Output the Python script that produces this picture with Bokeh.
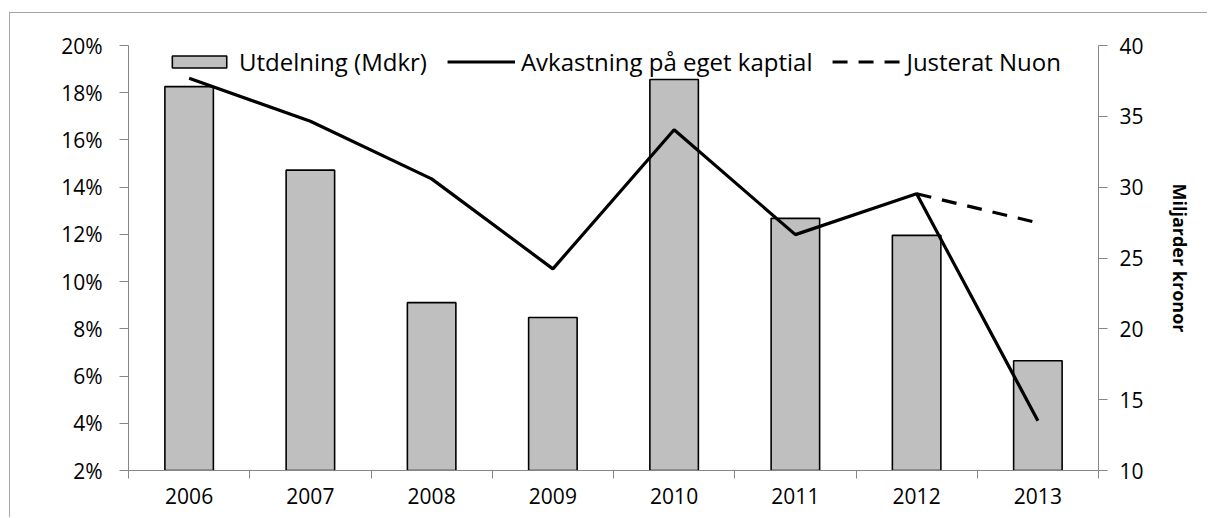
from bokeh.plotting import figure
from bokeh.models import (Range1d, LinearAxis, FixedTicker, NumeralTickFormatter,
                          ColumnDataSource, Legend, LegendItem)
from bokeh.embed import file_html
from bokeh.resources import INLINE

years = ["2006", "2007", "2008", "2009", "2010", "2011", "2012", "2013"]
utdelning = [37.1, 31.2, 21.85, 20.8, 37.6, 27.8, 26.6, 17.75]
avkastning = [0.1861, 0.1679, 0.1435, 0.1054, 0.1643, 0.1199, 0.1372, 0.0411]
justerat_years = ["2012", "2013"]
justerat = [0.1372, 0.1249]

FONT = "Open Sans"
AXIS_GRAY = "#868686"

n = len(years)
xc = [i + 0.5 for i in range(n)]
xj = [years.index(y) + 0.5 for y in justerat_years]

p = figure(width=1198, height=505, output_backend="svg", toolbar_location=None,
           x_range=Range1d(0, n), y_range=Range1d(0.02, 0.20),
           min_border_left=118, min_border_right=110, min_border_top=32,
           min_border_bottom=48)
p.styles = {"margin-left": "9px", "margin-top": "12px",
            "border-left": "1px solid #a6a6a6", "border-top": "1px solid #a6a6a6"}
p.extra_y_ranges = {"mdkr": Range1d(10, 40)}
p.outline_line_color = None
p.xgrid.visible = False
p.ygrid.visible = False
p.background_fill_color = "white"
p.border_fill_color = "white"

src_bar = ColumnDataSource(dict(x=xc, top=utdelning))
bars = p.vbar(x="x", top="top", bottom=10, width=0.4, source=src_bar,
              fill_color="#bfbfbf", line_color="black", line_width=1.6,
              y_range_name="mdkr")

src_line = ColumnDataSource(dict(x=xc, y=avkastning))
ln = p.line(x="x", y="y", source=src_line, line_color="black", line_width=3.2)
src_j = ColumnDataSource(dict(x=xj, y=justerat))
lj = p.line(x="x", y="y", source=src_j, line_color="black", line_width=3.2,
            line_dash="15 11")

# x axis
xa = p.xaxis[0]
xa.ticker = FixedTicker(ticks=xc, minor_ticks=list(range(n + 1)))
xa.major_label_overrides = {x: y for x, y in zip(xc, years)}
xa.major_tick_out = 0
xa.major_tick_in = 0
xa.minor_tick_out = 8
xa.minor_tick_in = 0
xa.minor_tick_line_color = AXIS_GRAY
xa.axis_line_color = AXIS_GRAY
xa.major_label_text_font = FONT
xa.major_label_text_font_size = "21px"
xa.major_label_text_color = "black"
xa.major_label_standoff = 9

# left axis
ya = p.yaxis[0]
ya.ticker = FixedTicker(ticks=[0.02 * k for k in range(1, 11)])
ya.formatter = NumeralTickFormatter(format="0%")
ya.major_tick_out = 9
ya.major_tick_in = 0
ya.minor_tick_out = 0
ya.minor_tick_in = 0
ya.major_tick_line_color = AXIS_GRAY
ya.axis_line_color = AXIS_GRAY
ya.major_label_text_font = FONT
ya.major_label_text_font_size = "21px"
ya.major_label_text_color = "black"
ya.major_label_standoff = 17

# right axis
ra = LinearAxis(y_range_name="mdkr", ticker=FixedTicker(ticks=[10, 15, 20, 25, 30, 35, 40]),
                axis_label="Miljarder kronor")
ra.major_tick_out = 9
ra.major_tick_in = 0
ra.minor_tick_out = 0
ra.minor_tick_in = 0
ra.major_tick_line_color = AXIS_GRAY
ra.axis_line_color = AXIS_GRAY
ra.major_label_text_font = FONT
ra.major_label_text_font_size = "21px"
ra.major_label_text_color = "black"
ra.major_label_standoff = 12
ra.axis_label_text_font = FONT
ra.axis_label_text_font_size = "18px"
ra.axis_label_text_font_style = "bold"
ra.axis_label_text_color = "black"
ra.axis_label_standoff = 21
p.add_layout(ra, "right")

legend = Legend(items=[
    LegendItem(label="Utdelning (Mdkr)", renderers=[bars]),
    LegendItem(label="Avkastning på eget kaptial", renderers=[ln]),
    LegendItem(label="Justerat Nuon", renderers=[lj]),
], orientation="horizontal", location="top")
legend.glyph_width = 68
legend.glyph_height = 15
legend.label_standoff = 6
legend.spacing = 20
legend.padding = 0
legend.margin = 0
legend.border_line_color = None
legend.background_fill_alpha = 0
legend.label_text_font = FONT
legend.label_text_font_size = "24px"
legend.label_text_line_height = 1.0
legend.label_text_color = "black"
legend.label_height = 20
p.add_layout(legend, "center")

open("out.html", "w").write(file_html(p, INLINE))
